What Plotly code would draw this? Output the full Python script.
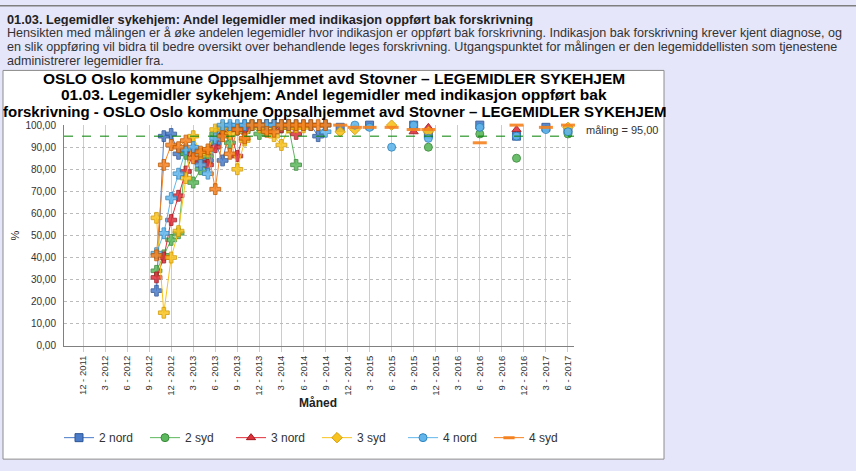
import plotly.graph_objects as go

# ---------------- data ----------------
series_names = ["2 nord", "2 syd", "3 nord", "3 syd", "4 nord", "4 syd"]

monthly_periods = ["2012-10", "2012-11", "2012-12", "2013-01", "2013-02", "2013-03",
                   "2013-04", "2013-05", "2013-06", "2013-07", "2013-08", "2013-09",
                   "2013-10", "2013-11", "2013-12", "2014-01", "2014-02", "2014-03",
                   "2014-04", "2014-05", "2014-06", "2014-07", "2014-08", "2014-09"]

nord2_monthly = [25, 95, 96, 87, 88, 89, 83, 84, 92, 84, 99, 98, 100, 100, 100, 100, 100, 100, 100, 100, 100, 100, 95, 100]
syd2_monthly = [34, 41, 48, 51, 87, 74, 80, 86, 96, 97, 92, 98, 97, 100, 96, 100, 100, 99, 99, 82, None, None, None, None]
nord3_monthly = [31, 40, 57, 68, 79, 87, 83, 82, 90, 97, 98, 86, 98, 100, 100, 100, 100, 99, 100, 96, None, None, None, None]
syd3_monthly = [58, 15, 40, 52, 76, 95, 87, 88, 98, 99, 96, 80, 93, 100, 99, 98, 95, 91, 99, 99, 99, None, None, None]
nord4_monthly = [42, 51, 67, 78, 89, 90, 82, 78, 94, 100, 100, 100, 100, 100, 100, 100, 100, 100, 100, None, None, None, None, 97]
syd4_monthly = [41, 82, 91, 90, 93, 85, 88, 89, 71, 95, 87, 98, 94, 100, 100, 97, 97, 100, 100, 100, 100, 100, 100, 100]

spot_periods = ["2014-11", "2015-01", "2015-03", "2015-06", "2015-09", "2015-11",
                "2016-06", "2016-11", "2017-03", "2017-06"]
nord2_spot = [99, None, 100, None, 100, 96, 100, 95, 99, 98]
syd2_spot = [None, None, None, None, None, 90, 96, 85, None, 96]
nord3_spot = [None, None, None, None, 97, 99, None, 98, None, None]
syd3_spot = [97, 98, None, 100, None, 97, None, None, None, 99]
nord4_spot = [None, 100, 99, 90, 100, 94, 99, 95, 98, 97]
syd4_spot = [100, 99, 99, 99, 98, 98, 92, 100, 99, 100]

tick_periods = ["2011-12", "2012-03", "2012-06", "2012-09", "2012-12", "2013-03", "2013-06",
                "2013-09", "2013-12", "2014-03", "2014-06", "2014-09", "2014-12", "2015-03",
                "2015-06", "2015-09", "2015-12", "2016-03", "2016-06", "2016-09", "2016-12",
                "2017-03", "2017-06"]
tick_labels = ["12 - 2011", "3 - 2012", "6 - 2012", "9 - 2012", "12 - 2012", "3 - 2013",
               "6 - 2013", "9 - 2013", "12 - 2013", "3 - 2014", "6 - 2014", "9 - 2014",
               "12 - 2014", "3 - 2015", "6 - 2015", "9 - 2015", "12 - 2015", "3 - 2016",
               "6 - 2016", "9 - 2016", "12 - 2016", "3 - 2017", "6 - 2017"]

target_value = 95
target_label = "måling = 95,00"

header_title = "01.03. Legemidler sykehjem: Andel legemidler med indikasjon oppført bak forskrivning"
header_lines = [
    "Hensikten med målingen er å øke andelen legemidler hvor indikasjon er oppført bak forskrivning. Indikasjon bak forskrivning krever kjent diagnose, og",
    "en slik oppføring vil bidra til bedre oversikt over behandlende leges forskrivning. Utgangspunktet for målingen er den legemiddellisten som tjenestene",
    "administrerer legemidler fra.",
]
chart_title_lines = [
    "OSLO Oslo kommune Oppsalhjemmet avd Stovner \u2013 LEGEMIDLER SYKEHJEM",
    "01.03. Legemidler sykehjem: Andel legemidler med indikasjon oppført bak",
    "forskrivning - OSLO Oslo kommune Oppsalhjemmet avd Stovner \u2013 LEGEMIDLER SYKEHJEM",
]

# ---------------- styling ----------------
W, H = 856, 471
BG = "#E6E6FA"
fills = ["#4A7CC9", "#5CB85C", "#E0303A", "#F8C31F", "#62B6EC", "#F58220"]
edges = ["#2E5597", "#3A8A3A", "#A01820", "#D49A00", "#2F86C0", "#C05A00"]
spot_symbols = ["square", "circle", "triangle-up", "diamond", "circle", "line-ew"]


def month_index(p):
    y, m = p.split("-")
    return (int(y) - 2011) * 12 + int(m) - 12


def px(xp):
    return xp / W


def py(yp):
    return 1 - yp / H


monthly_data = [nord2_monthly, syd2_monthly, nord3_monthly, syd3_monthly, nord4_monthly, syd4_monthly]
spot_data = [nord2_spot, syd2_spot, nord3_spot, syd3_spot, nord4_spot, syd4_spot]

mx = [month_index(p) for p in monthly_periods]
sx = [month_index(p) for p in spot_periods]

fig = go.Figure()

for i, name in enumerate(series_names):
    fig.add_trace(go.Scatter(
        x=mx, y=monthly_data[i], mode="lines+markers", name=name, showlegend=False,
        line=dict(color=fills[i], width=1), connectgaps=False, cliponaxis=False,
        marker=dict(symbol="cross", size=9, color=fills[i], opacity=0.85,
                    line=dict(color=edges[i], width=1)),
        hoverinfo="skip"))

for i, name in enumerate(series_names):
    is_dash = spot_symbols[i] == "line-ew"
    fig.add_trace(go.Scatter(
        x=sx, y=spot_data[i], mode="markers", name=name, showlegend=False,
        cliponaxis=False,
        marker=dict(symbol=spot_symbols[i], size=8 if not is_dash else 10, color=fills[i], opacity=0.9,
                    line=dict(color=fills[i] if is_dash else edges[i], width=3 if is_dash else 1)),
        hoverinfo="skip"))

# legend-only entries
for i, name in enumerate(series_names):
    is_dash = spot_symbols[i] == "line-ew"
    fig.add_trace(go.Scatter(
        x=[None], y=[None], mode="lines+markers", name=name,
        line=dict(color=fills[i], width=1),
        marker=dict(symbol=spot_symbols[i], size=8, color=fills[i],
                    line=dict(color=fills[i] if is_dash else edges[i], width=3 if is_dash else 1))))

# target line
fig.add_shape(type="line", xref="x domain", yref="y", x0=0, x1=1, y0=target_value, y1=target_value,
              line=dict(color="#008000", width=1, dash="dash"), layer="above")

annotations = []
annotations.append(dict(text="<b>" + header_title + "</b>", x=px(5), y=py(14), xref="paper", yref="paper",
                        xanchor="left", yanchor="middle", showarrow=False, height=14,
                        font=dict(family="Liberation Sans", size=12.75, color="#222222")))
for k, line in enumerate(header_lines):
    annotations.append(dict(text=line, x=px(5), y=py(29 + 14 * k), xref="paper", yref="paper",
                            xanchor="left", yanchor="middle", showarrow=False, height=14,
                            font=dict(family="Liberation Sans", size=12.6, color="#333333")))
for k, line in enumerate(chart_title_lines):
    annotations.append(dict(text="<b>" + line + "</b>", x=px(334), y=py(75 + 17 * k), xref="paper", yref="paper",
                            xanchor="center", yanchor="middle", showarrow=False, height=17,
                            font=dict(family="Liberation Sans", size=15 if k == 2 else 15.5, color="#000000")))
annotations.append(dict(text=target_label, x=px(584), y=py(128), xref="paper", yref="paper",
                        xanchor="left", yanchor="middle", showarrow=False,
                        font=dict(family="Liberation Sans", size=11, color="#333333")))
annotations.append(dict(text="<b>Måned</b>", x=px(318), y=py(408), xref="paper", yref="paper",
                        xanchor="center", yanchor="middle", showarrow=False,
                        font=dict(family="Liberation Sans", size=12, color="#222222")))
annotations.append(dict(text="%", x=px(15), y=py(236), xref="paper", yref="paper", textangle=-90,
                        xanchor="center", yanchor="middle", showarrow=False,
                        font=dict(family="Liberation Sans", size=11, color="#222222")))

shapes = [
    dict(type="rect", xref="paper", yref="paper", x0=px(3), x1=px(664), y0=py(465), y1=py(67),
         fillcolor="#FFFFFF", line=dict(color="#8C8C8C", width=1), layer="below"),
    dict(type="rect", xref="paper", yref="paper", x0=0, x1=1, y0=py(1.5), y1=1,
         fillcolor="#7F7F7F", line=dict(width=0), layer="below"),
]

fig.update_layout(
    width=W, height=H, margin=dict(l=0, r=0, t=0, b=0),
    paper_bgcolor=BG, plot_bgcolor="rgba(0,0,0,0)",
    separators=", ",
    annotations=annotations,
    shapes=list(fig.layout.shapes) + shapes,
    showlegend=True,
    legend=dict(orientation="h", x=px(59), y=py(443), xanchor="left", yanchor="middle",
                bgcolor="rgba(0,0,0,0)", itemwidth=30, entrywidth=41, entrywidthmode="pixels",
                font=dict(family="Liberation Sans", size=12, color="#333333"), tracegroupgap=0),
    xaxis=dict(domain=[px(64), px(574)], range=[(64 - 83) / 7.348, (574 - 83) / 7.348],
               tickmode="array", tickvals=[month_index(p) for p in tick_periods], ticktext=tick_labels,
               tickangle=-90, tickfont=dict(family="Liberation Sans", size=9.5, color="#333333"),
               showgrid=True, gridcolor="#CCCCCC", gridwidth=1,
               showline=True, linecolor="#808080", linewidth=1,
               ticks="outside", ticklen=5, tickcolor="#CCCCCC", zeroline=False),
    yaxis=dict(domain=[py(349), py(123)], range=[0, 100], dtick=10, tickformat=".2f",
               tickfont=dict(family="Liberation Sans", size=10, color="#333333"),
               showgrid=True, gridcolor="#BBBBBB", griddash="dot", gridwidth=1,
               showline=True, linecolor="#808080", linewidth=1, zeroline=False,
               ticks="", ticklabelstandoff=5),
)

fig.write_html("out.html", config={"displayModeBar": False},
               post_script="document.body.style.margin='0px';document.body.style.background='#E6E6FA';")
